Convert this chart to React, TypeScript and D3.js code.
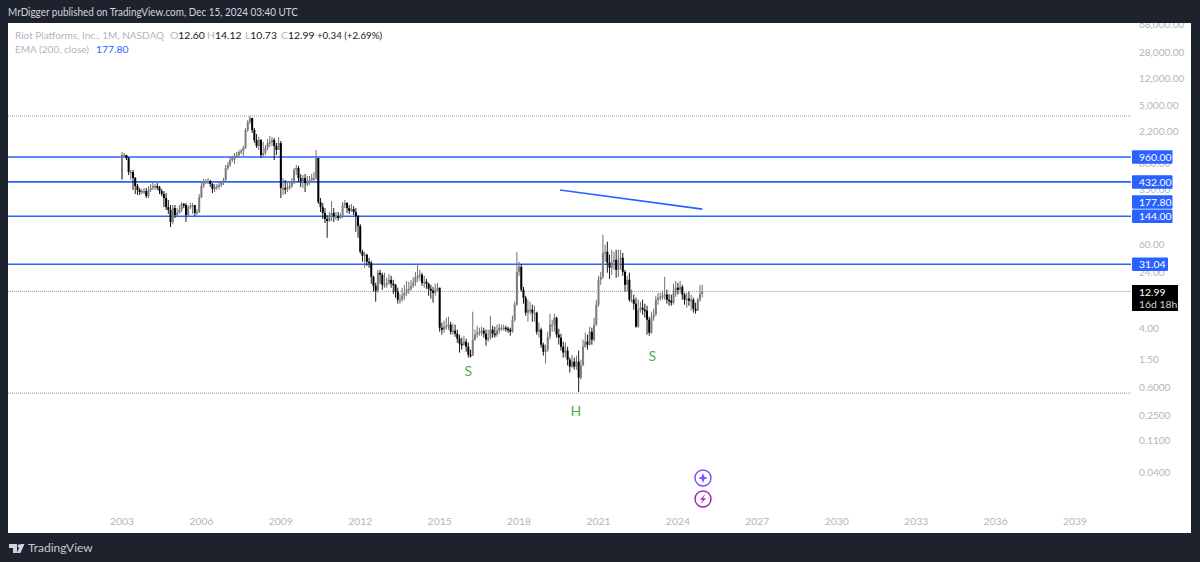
import React from "react";
import * as d3 from "d3";

const firstOpen = 475;
const closes = [
  1024,1024,930,594,594,490,379,334,313,323,323,275,
  334,356,379,379,367,323,293,258,193,176,120,187,
  150,160,176,213,206,150,193,200,206,160,165,266,
  379,445,445,445,404,344,367,379,391,417,460,675,
  743,872,930,930,1024,1128,1164,1282,2282,2948,3350,2282,
  1656,1367,1656,1024,1092,1282,1505,1554,1656,1367,1202,1505,
  356,356,344,367,379,417,633,675,490,445,490,417,
  417,460,490,490,930,227,193,160,132,124,145,160,
  145,145,136,145,206,220,187,170,181,165,145,105,
  46.2,40.6,41.9,33.5,32.5,20.7,15.5,13.3,23.6,22.1,16,16,
  17.1,18.8,16.6,16,12.9,9.95,9.95,11.3,12.4,13.7,14.1,15.5,
  17.1,20.1,21.4,22.1,17.1,17.7,16.6,14.1,13.3,12.4,13.7,14.6,
  4.06,3.81,4.19,4.33,4.47,3.57,3.69,3.35,2.86,2.43,2.36,2.6,
  2.21,1.71,1.66,2.77,3.25,3.46,3.57,3.69,3.35,2.77,2.95,3.81,
  3.35,3.25,3.69,4.06,4.06,4.06,3.93,3.81,3.57,5.25,8.48,24.3,
  28.5,13.7,10.6,6.56,7.23,7.23,6.56,6.56,3.57,3.81,2.36,1.88,
  2.01,3.04,4.47,4.47,5.59,3.25,2.95,2.21,1.83,1.95,1.46,1.17,
  1.37,1.17,1.37,0.82,1.21,2.21,2.6,2.36,3.57,2.77,4.47,8.48,
  18.8,20.7,44.7,46.2,32.5,27.6,33.5,35.7,25.9,35.7,38.1,24.3,
  16,18.8,9.95,9.95,8.76,4.19,7.23,7.7,7.23,7,5.25,3.46,
  5.59,6.16,9.95,10.6,10.9,11.3,11.7,9.95,9.64,9.04,12.4,14.6,
  13.7,15,11.7,9.95,10.3,9.64,9.95,7.46,7,9.95,12,12.99,
];
const highs = [
  1128,1092,1024,960,633,633,506,404,356,344,356,356,
  379,404,431,404,417,379,344,323,303,242,206,206,
  206,187,206,227,220,220,206,220,220,206,181,293,
  417,475,475,490,460,417,404,404,417,445,490,743,
  818,960,992,1092,1128,1202,1241,1367,2432,3143,3572,3350,
  2432,2007,1823,1710,1554,1411,1710,1883,1823,1766,1505,1823,
  1604,490,460,417,445,490,675,743,720,557,539,557,
  522,522,557,594,1202,930,258,220,187,150,165,234,
  187,165,165,160,227,242,227,206,213,200,187,150,
  112,49.2,46.2,43.3,38.1,34.6,21.4,17.1,25.9,25.9,23.6,23.6,
  20.1,22.8,21.4,18.8,16.6,14.6,12,14.6,16,18.2,17.7,18.8,
  20.7,24.3,31.4,25.9,23.6,21.4,19.4,17.1,16,15,16.6,17.1,
  14.6,4.77,5.08,5.59,5.77,4.92,4.62,4.47,3.81,3.25,2.95,3.14,
  2.86,2.51,2.01,6.78,3.81,4.33,4.06,4.19,4.06,3.81,3.81,5.96,
  4.33,4.19,4.47,4.62,4.47,4.47,4.33,4.19,4.06,5.96,9.34,46.2,
  33.5,31.4,15,11.3,9.95,9.34,8.48,8.21,6.78,4.77,4.06,2.51,
  2.36,3.57,6.36,5.25,6.36,5.77,3.93,3.35,2.6,2.51,2.21,1.56,
  1.71,1.56,1.66,1.95,1.46,2.77,3.46,3.25,4.19,4.06,5.59,9.95,
  21.4,24.3,79.6,57.8,63.6,41.9,49.2,46.2,49.2,49.2,49.2,44.7,
  25.9,21.4,23.6,13.7,11.7,10.6,9.95,9.34,9.95,8.76,8.21,5.77,
  6.78,7.46,11.3,12.4,12.4,13.3,20.7,13.7,12,11.7,16.6,18.2,
  17.1,18.2,16,12.4,12.4,12.9,11.7,10.6,9.04,10.6,16,16,
];
const lows = [
  460,960,872,539,460,334,293,284,284,293,293,258,
  258,313,334,334,334,293,275,193,176,155,102,112,
  136,140,155,165,187,120,140,181,155,145,150,160,
  258,356,404,404,367,303,313,334,344,367,391,431,
  633,697,818,767,930,960,1058,992,1241,2140,2765,2073,
  1505,1282,1202,930,960,1024,1202,1323,1367,872,1024,1202,
  258,284,293,313,334,356,404,539,431,367,356,313,
  379,391,431,431,460,213,165,132,116,72.3,120,124,
  120,128,124,132,136,187,160,155,165,150,87.6,72.3,
  43.3,33.5,27.6,29.5,27.6,16.6,12.9,9.34,12.4,16.6,13.7,14.6,
  14.6,16,14.6,12,10.6,8.76,8.76,9.34,9.95,11.3,12,13.3,
  14.6,15.5,17.7,18.2,15.5,14.6,14.1,11.3,10.3,9.04,11.3,12.9,
  3.57,3.25,3.46,3.81,3.81,3.25,3.25,3.04,2.51,1.83,2.01,2.28,
  1.88,1.56,1.56,1.66,2.68,2.95,3.14,3.14,2.95,2.28,2.6,2.77,
  2.95,2.95,3.04,3.35,3.69,3.69,3.57,3.46,3.14,3.46,4.92,8.21,
  21.4,12.9,8.76,5.96,4.92,6.16,4.92,4.92,3.25,2.95,2.14,1.66,
  1.29,1.88,2.77,3.57,3.57,2.95,2.36,1.95,1.56,1.56,1.21,0.965,
  1.13,1.06,1.06,0.52,0.77,1.21,2.14,2.01,2.28,2.36,2.6,4.33,
  7.95,16,19.4,33.5,23.6,19.4,22.1,25.9,20.1,20.7,25.9,21.4,
  12.9,12.9,9.34,9.04,7.23,4.06,4.06,6.56,6.16,5.59,3.25,3.14,
  3.35,5.08,5.96,8.48,9.64,9.95,9.95,8.76,8.21,8.21,8.48,10.9,
  11.7,12.4,9.95,8.48,7.7,8.21,7,6.56,6.36,7,9.34,10.73,
];

const yearTicks = [2003,2006,2009,2012,2015,2018,2021,2024,2027,2030,2033,2036,2039];
const priceTicks = [
  [68000,"68,000.00"],[28000,"28,000.00"],[12000,"12,000.00"],[5000,"5,000.00"],[2200,"2,200.00"],
  [800,"800.00"],[350,"350.00"],[60,"60.00"],[24,"24.00"],[4,"4.00"],[1.5,"1.50"],
  [0.6,"0.6000"],[0.25,"0.2500"],[0.11,"0.1100"],[0.04,"0.0400"],
] as [number,string][];
const blueLevels = [
  [960,"960.00",40.5],[432,"432.00",40.5],[144,"144.00",40.5],[31.04,"31.04",36],
] as [number,string,number][];
const dottedLevels = [3570, 0.5];
const trendYears = [2019.55, 2024.92];
const trendPrices = [334, 181];
const patternLabels = [
  ["S", 2016.08, 0.87],["H", 2020.14, 0.24],["S", 2023.03, 1.4],
] as [string,number,number][];
const legendValues = [["O","12.60",170],["H","14.12",207],["L","10.73",245],["C","12.99",281]] as [string,string,number][];

const FONT = "Lato, sans-serif";
const FS = 10.4;
const AXIS_FS = 10;
const BLUE = "#2962ff";
const GREY = "#b2b5be";
const UP = "#7c7c7c";
const DOWN = "#000000";

const x = d3.scaleLinear().domain([2003, 2039]).range([122, 1075]);
const y = d3.scaleLog().domain([960, 0.04]).range([157, 472]);

export default function App() {
  const body = 2;
  const line = d3.line<number>().x((_, i) => x(trendYears[i])).y((d) => y(d));
  const candles = closes.map((c, i) => {
    const o = i === 0 ? firstOpen : closes[i - 1];
    const up = c >= o;
    return { i, o, c, h: highs[i], l: lows[i], up, cx: x(2003 + i / 12) };
  });
  return (
    <svg width={1200} height={562} viewBox="0 0 1200 562" style={{ position: "absolute", left: 0, top: 0, display: "block" }} fontFamily={FONT}>
      <defs>
        <clipPath id="panel"><rect x={8} y={23} width={1183} height={510} /></clipPath>
      </defs>
      <rect width={1200} height={562} fill="#1e222d" />
      <rect x={8} y={23} width={1183} height={510} fill="#ffffff" />
      <text x={8} y={16} fontSize={FS + 0.6} fill="#d1d4dc" textLength={290} lengthAdjust="spacingAndGlyphs">MrDigger published on TradingView.com, Dec 15, 2024 03:40 UTC</text>

      <g clipPath="url(#panel)">
        {priceTicks.map(([p, s]) => (
          <text key={s} x={1139} y={y(p) + 4} fontSize={AXIS_FS} fill={GREY}>{s}</text>
        ))}
        {dottedLevels.map((p) => (
          <line key={p} x1={8} x2={1131} y1={y(p)} y2={y(p)} stroke="#9a9a9a" strokeWidth={1} strokeDasharray="1 1" />
        ))}
        <line x1={8} x2={x(2024.92)} y1={y(12.99)} y2={y(12.99)} stroke="#9a9a9a" strokeWidth={1} strokeDasharray="1 1" />
        <line x1={x(2024.92)} x2={1131} y1={y(12.99)} y2={y(12.99)} stroke="#c8c8c8" strokeWidth={1} />
        {blueLevels.map(([p, s]) => (
          <line key={s} x1={8} x2={1131} y1={y(p)} y2={y(p)} stroke={BLUE} strokeWidth={p === 432 ? 1.8 : 1.4} />
        ))}
        {candles.map((d) => (
          <g key={d.i}>
            <line x1={d.cx} x2={d.cx} y1={y(d.h)} y2={y(d.l)} stroke={d.up ? "#707070" : "#1a1a1a"} strokeWidth={1} />
            <rect
              x={d.cx - body / 2}
              width={body}
              y={Math.min(y(d.o), y(d.c))}
              height={Math.max(1.5, Math.abs(y(d.o) - y(d.c)))}
              fill={d.up ? UP : DOWN}
            />
          </g>
        ))}
        <path d={line(trendPrices) ?? ""} fill="none" stroke={BLUE} strokeWidth={1.6} />
        {patternLabels.map(([s, yr, p]) => (
          <text key={s + yr} x={x(yr)} y={y(p)} fontSize={14} fill="#4caf50" textAnchor="middle">{s}</text>
        ))}
        {yearTicks.map((t) => (
          <text key={t} x={x(t)} y={525} fontSize={FS} fill={GREY} textAnchor="middle">{t}</text>
        ))}
      </g>

      <text x={15} y={39} fontSize={FS} fill={GREY} textLength={149} lengthAdjust="spacingAndGlyphs">Riot Platforms, Inc., 1M, NASDAQ</text>
      {legendValues.map(([k, v, px]) => (
        <text key={k} x={px} y={39} fontSize={FS} fill={GREY}>{k}<tspan fill="#131722">{v}</tspan></text>
      ))}
      <text x={317} y={39} fontSize={FS} fill="#131722" textLength={65} lengthAdjust="spacingAndGlyphs">+0.34 (+2.69%)</text>
      <text x={15} y={53} fontSize={FS} fill={GREY} textLength={74} lengthAdjust="spacingAndGlyphs">EMA (200, close)</text>
      <text x={96} y={53} fontSize={FS} fill={BLUE}>177.80</text>

      {blueLevels.map(([p, s, w]) => (
        <g key={s}>
          <rect x={1132} y={y(p) - 6.75} width={w} height={13.5} rx={1} fill={BLUE} />
          <text x={1139} y={y(p) + 4} fontSize={FS} fill="#ffffff">{s}</text>
        </g>
      ))}
      <rect x={1132} y={y(177.8) - 14.5} width={40.5} height={13.5} rx={1} fill={BLUE} />
      <text x={1139} y={y(177.8) - 3.75} fontSize={FS} fill="#ffffff">177.80</text>
      <rect x={1132} y={285} width={46} height={26} fill="#000000" />
      <text x={1139} y={296} fontSize={FS} fill="#ffffff">12.99</text>
      <text x={1139} y={308} fontSize={FS} fill="#d1d4dc">16d 18h</text>

      <circle cx={703} cy={478} r={8} fill="#fff" stroke="#7c4dff" strokeWidth={1.4} />
      <path d="M703 473 L704.3 476.7 L708 478 L704.3 479.3 L703 483 L701.7 479.3 L698 478 L701.7 476.7 Z" fill="#7c4dff" />
      <circle cx={703} cy={499} r={8} fill="#fff" stroke="#9c27b0" strokeWidth={1.4} />
      <path d="M705.5 494 L700 499.8 L703 499.8 L700.5 504 L706 498.2 L703 498.2 Z" fill="#9c27b0" />

      <path d="M9 544 H17 V553 H13 V548 H9 Z M24.5 544 L20.5 553 H16.8 L20.8 544 Z" fill="#d1d4dc" />
      <circle cx={19.3} cy={546} r={1.7} fill="#d1d4dc" />
      <text x={28} y={552} fontSize={12} fill="#c4c7cf">TradingView</text>
    </svg>
  );
}
